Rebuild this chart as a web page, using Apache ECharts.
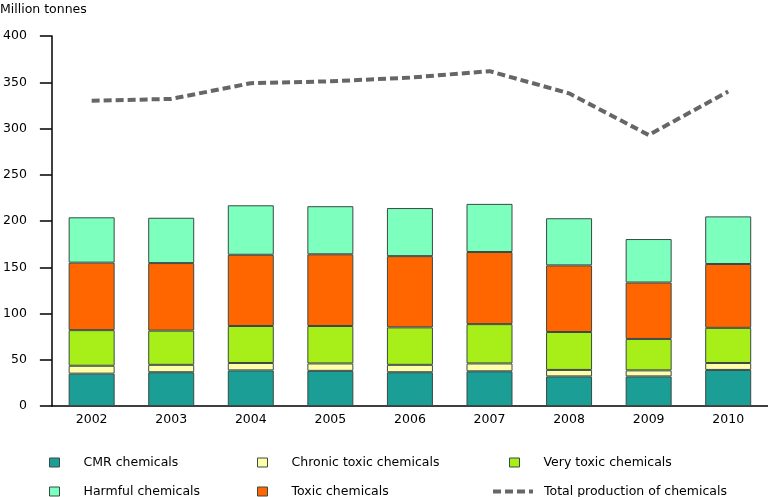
<!DOCTYPE html>
<html>
<head>
<meta charset="utf-8">
<script src="https://cdn.jsdelivr.net/npm/echarts@6/dist/echarts.min.js"></script>
<style>
html,body{margin:0;padding:0;background:#fff;}
#chart{width:768px;height:497px;}
</style>
</head>
<body>
<div id="chart"></div>
<script>
var years = ['2002','2003','2004','2005','2006','2007','2008','2009','2010'];
var cmr      = [35, 36.5, 38.5, 38, 36.5, 37.5, 32, 32, 39];
var chronic  = [8.5, 8, 8, 8, 8, 8.5, 7, 6.5, 7.5];
var veryToxic= [38.5, 37, 40, 40.5, 40.5, 42.5, 41, 34, 38];
var toxic    = [73, 73, 77, 77.5, 77, 78, 72, 61, 69];
var harmful  = [49, 49, 53.5, 52, 52, 52, 51, 47, 51.5];
var total    = [330, 332, 349, 351, 355, 362, 338, 293, 340];
var yTicks   = [0, 50, 100, 150, 200, 250, 300, 350, 400];

var FONT = 'DejaVu Sans';
var FS = 12.5;
var chart = echarts.init(document.getElementById('chart'), null, {renderer:'canvas'});

function barSeries(name, data, color) {
  return {
    name: name, type: 'bar', stack: 'chem', data: data, barWidth: 46,
    itemStyle: {color: color, borderColor: '#3a4a44', borderWidth: 1},
    emphasis: {disabled: true}
  };
}

function legendAt(name, left, top, isLine) {
  var l = {
    data: [name], left: left, top: top, orient: 'horizontal',
    itemWidth: isLine ? 40 : 10, itemHeight: isLine ? 10 : 9,
    selectedMode: false, padding: 0,
    textStyle: {fontFamily: FONT, fontSize: FS, color: '#000',
                padding: [0, 0, 0, isLine ? 6 : 19]}
  };
  if (isLine) {
    l.itemStyle = {opacity: 0};
    l.lineStyle = {color: '#666', width: 4, type: [8, 4]};
  } else {
    l.icon = 'rect';
    l.itemStyle = {borderColor: '#3a4a44', borderWidth: 1};
  }
  return l;
}

var option = {
  animation: false,
  textStyle: {fontFamily: FONT},
  grid: {left: 49, right: 0, top: 36, bottom: 91, containLabel: false},
  title: {text: 'Million tonnes', left: 0, top: 3, padding: 0,
          textStyle: {fontFamily: FONT, fontSize: FS, fontWeight: 'normal', color: '#000'}},
  legend: [
    legendAt('CMR chemicals', 49, 456, false),
    legendAt('Harmful chemicals', 49, 485, false),
    legendAt('Chronic toxic chemicals', 257, 456, false),
    legendAt('Toxic chemicals', 257, 485, false),
    legendAt('Very toxic chemicals', 509, 456, false),
    legendAt('Total production of chemicals', 491, 485, true)
  ],
  xAxis: {
    type: 'category', data: years, boundaryGap: true,
    axisLine: {lineStyle: {color: '#000', width: 1.5}},
    axisTick: {show: false},
    axisLabel: {fontFamily: FONT, fontSize: FS, color: '#000', margin: 7}
  },
  yAxis: {
    type: 'value', min: yTicks[0], max: yTicks[yTicks.length - 1], interval: 50,
    axisLine: {show: true, lineStyle: {color: '#000', width: 1.5}},
    axisTick: {show: true, length: 12, lineStyle: {color: '#000', width: 1.5}},
    splitLine: {show: false},
    axisLabel: {fontFamily: FONT, fontSize: FS, color: '#000', margin: 25}
  },
  series: [
    barSeries('CMR chemicals', cmr, '#1a9e96'),
    barSeries('Chronic toxic chemicals', chronic, '#ffffaa'),
    barSeries('Very toxic chemicals', veryToxic, '#a8ef1a'),
    barSeries('Toxic chemicals', toxic, '#ff6600'),
    barSeries('Harmful chemicals', harmful, '#7dffbe'),
    {
      name: 'Total production of chemicals', type: 'line', data: total,
      symbol: 'none', showSymbol: false,
      lineStyle: {color: '#666', width: 4, type: [8, 4]},
      itemStyle: {color: '#666'},
      emphasis: {disabled: true}, z: 5
    }
  ]
};
chart.setOption(option);
</script>
</body>
</html>
